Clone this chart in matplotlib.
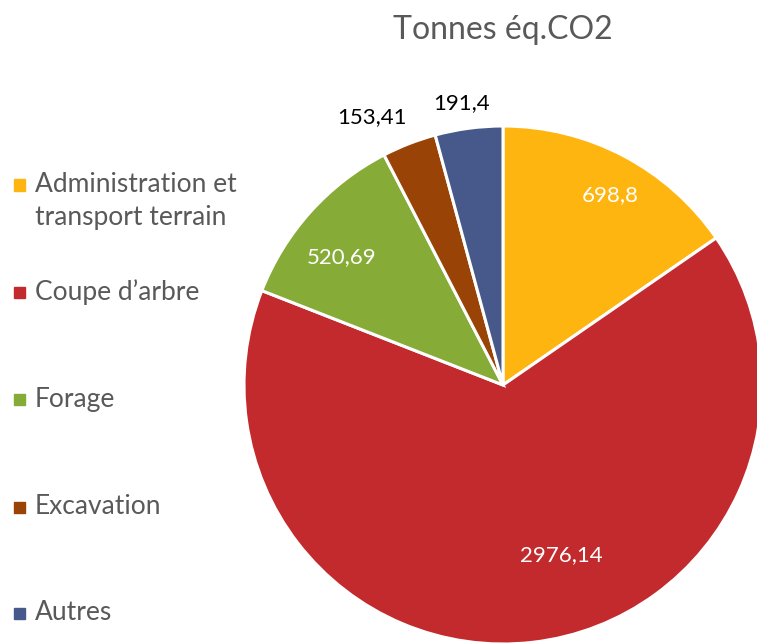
import matplotlib
matplotlib.use("Agg")
import matplotlib.pyplot as plt
from matplotlib.patches import Rectangle

categories = ["Administration et\ntransport terrain", "Coupe d\u2019arbre", "Forage", "Excavation", "Autres"]
values = [698.8, 2976.14, 520.69, 153.41, 191.4]
value_labels = ["698,8", "2976,14", "520,69", "153,41", "191,4"]
colors = ["#FFB50F", "#C32A2E", "#86AB37", "#9A4306", "#46598A"]
title = "Tonnes \u00e9q.CO2"

W, H = 757, 643
fig = plt.figure(figsize=(W / 100, H / 100), dpi=100)
plt.rcParams['font.family'] = ['Lato', 'DejaVu Sans']

cx, cy, R = 503, 385, 259
ax = fig.add_axes([(cx - R) / W, (H - cy - R) / H, 2 * R / W, 2 * R / H])
wedges, _ = ax.pie(values, colors=colors, startangle=90, counterclock=False, radius=1,
                   wedgeprops=dict(edgecolor="white", linewidth=2.2))
ax.set_xlim(-1, 1)
ax.set_ylim(-1, 1)
ax.set_aspect("equal")
ax.axis("off")

# label positions in pixel offsets from center
label_pos = [(107, 190), (58, -170), (-161, 128), (-131, 268), (-41, 282)]
label_col = ["white", "white", "white", "black", "black"]
for lab, (dx, dy), c in zip(value_labels, label_pos, label_col):
    ax.text(dx / R, dy / R, lab, color=c, fontsize=16, ha="center", va="center", clip_on=False)

fig.text(503 / W, 1 - 30 / H, title, fontsize=23, color="#595959", ha="center", va="center")

legend_y = [185, 292, 399, 507, 613]
line_gap = 33
for cat, col, yy in zip(categories, colors, legend_y):
    fig.patches.append(Rectangle((14 / W, 1 - (yy + 5.5) / H), 11 / W, 11 / H,
                                 transform=fig.transFigure, color=col, figure=fig))
    for i, line in enumerate(cat.split("\n")):
        fig.text(35 / W, 1 - (yy + i * line_gap) / H, line, fontsize=19, color="#595959",
                 ha="left", va="center")

fig.savefig("out.png", dpi=100)
